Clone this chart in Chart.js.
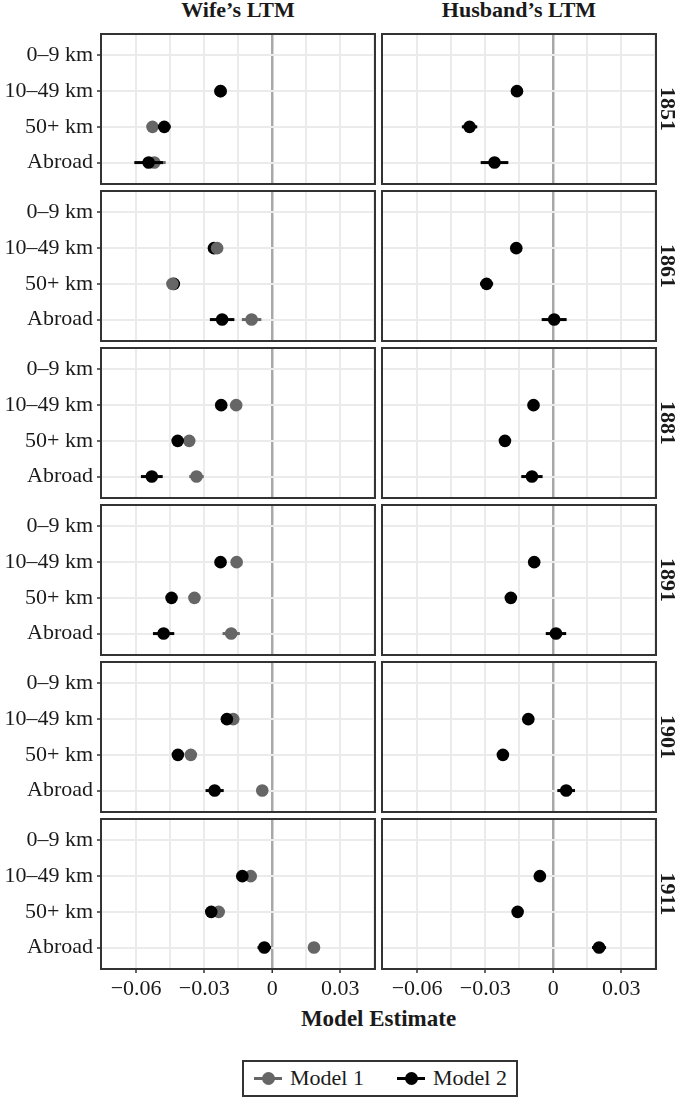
<!DOCTYPE html>
<html>
<head>
<meta charset="utf-8">
<script src="https://cdn.jsdelivr.net/npm/chart.js@4"></script>
<style>
body { margin: 0; background: #fff; }
#wrap { position: relative; width: 685px; height: 1099px; overflow: hidden; font-family: 'Liberation Serif', serif; color: #1a1a1a; }
#wrap canvas { position: absolute; }
.lbl { position: absolute; white-space: nowrap; }
.colTitle { font-weight: bold; font-size: 22px; transform: translateX(-50%); }
.rowTitle { font-weight: bold; font-size: 22px; transform: translate(-50%, -50%) rotate(90deg); }
#legend { position: absolute; box-sizing: border-box; border: 2px solid #333; font-size: 22px; }
.key { position: absolute; top: 50%; height: 3px; margin-top: -1.5px; }
.key i { position: absolute; left: 50%; top: 50%; width: 13px; height: 13px; margin: -6.5px 0 0 -6.5px; border-radius: 50%; }
</style>
</head>
<body>
<div id="wrap"></div>
<script>
// facets
const years = ['1851', '1861', '1881', '1891', '1901', '1911']
const columns = ['Wife’s LTM', 'Husband’s LTM']
const distances = ['0–9 km', '10–49 km', '50+ km', 'Abroad']

// x axis
const xTickValues = [-0.06, -0.03, 0, 0.03]
const xTickLabels = ['−0.06', '−0.03', '0', '0.03']
const xMinorValues = [-0.045, -0.015, 0.015, 0.045]

const seriesNames = ['Model 1', 'Model 2']
const seriesColors = ['#666666', '#000000']

// one row per year, one entry per distance (0–9 km is the reference, no estimate)
const wifeModel1 = [
	[null, -0.0228, -0.0528, -0.0520],
	[null, -0.0243, -0.0440, -0.0091],
	[null, -0.0159, -0.0366, -0.0334],
	[null, -0.0157, -0.0343, -0.0181],
	[null, -0.0172, -0.0359, -0.0044],
	[null, -0.0095, -0.0236, 0.0184],
]
const wifeModel1Err = [
	[null, 0.0015, 0.0020, 0.0050],
	[null, 0.0015, 0.0015, 0.0043],
	[null, 0.0015, 0.0015, 0.0032],
	[null, 0.0015, 0.0015, 0.0038],
	[null, 0.0015, 0.0015, 0.0025],
	[null, 0.0015, 0.0015, 0.0025],
]
const wifeModel2 = [
	[null, -0.0228, -0.0476, -0.0545],
	[null, -0.0257, -0.0434, -0.0221],
	[null, -0.0225, -0.0417, -0.0531],
	[null, -0.0228, -0.0444, -0.0479],
	[null, -0.0200, -0.0416, -0.0254],
	[null, -0.0132, -0.0269, -0.0035],
]
const wifeModel2Err = [
	[null, 0.0015, 0.0028, 0.0063],
	[null, 0.0015, 0.0015, 0.0054],
	[null, 0.0015, 0.0015, 0.0048],
	[null, 0.0015, 0.0015, 0.0047],
	[null, 0.0015, 0.0015, 0.0040],
	[null, 0.0015, 0.0015, 0.0030],
]
const husbandModel2 = [
	[null, -0.0160, -0.0369, -0.0259],
	[null, -0.0163, -0.0294, 0.0004],
	[null, -0.0087, -0.0213, -0.0094],
	[null, -0.0084, -0.0187, 0.0012],
	[null, -0.0110, -0.0222, 0.0057],
	[null, -0.0059, -0.0157, 0.0202],
]
const husbandModel2Err = [
	[null, 0.0015, 0.0034, 0.0061],
	[null, 0.0015, 0.0029, 0.0055],
	[null, 0.0015, 0.0015, 0.0047],
	[null, 0.0015, 0.0015, 0.0045],
	[null, 0.0015, 0.0015, 0.0039],
	[null, 0.0015, 0.0015, 0.0031],
]
// panels where the grey points sit over the black ones
const greyOnTop = [false, true, false, false, false, false]

// layout
const colLeft = [101, 382]
const panelW = 274
const panelH = 150
const rowTop = 34
const rowStep = 157
const xAxisH = 36
const font = 'Liberation Serif'

const wrap = document.getElementById('wrap')

// error bars go under the dataset's own points
const errorBars = {
	id: 'errorBars',
	beforeDatasetDraw(chart, args) {
		const ds = chart.data.datasets[args.index]
		const xs = chart.scales.x
		const ys = chart.scales.y
		const a = chart.chartArea
		const c = chart.ctx
		c.save()
		c.beginPath()
		c.rect(a.left, a.top, a.right - a.left, a.bottom - a.top)
		c.clip()
		c.strokeStyle = ds.backgroundColor
		c.lineWidth = 3
		ds.data.forEach((p, i) => {
			const e = ds.errors[i]
			const y = ys.getPixelForValue(p.y)
			c.beginPath()
			c.moveTo(xs.getPixelForValue(p.x - e), y)
			c.lineTo(xs.getPixelForValue(p.x + e), y)
			c.stroke()
		})
		c.restore()
	},
}

// panel border
const frame = {
	id: 'frame',
	afterDraw(chart) {
		const a = chart.chartArea
		const c = chart.ctx
		c.save()
		c.strokeStyle = '#333333'
		c.lineWidth = 2
		c.strokeRect(a.left, a.top, a.right - a.left, a.bottom - a.top)
		c.restore()
	},
}

function series(values, errs) {
	const data = []
	const errors = []
	values.forEach((v, i) => {
		if (v === null) return
		data.push({ x: v, y: i })
		errors.push(errs[i])
	})
	return { data, errors }
}

const xGrid = xTickValues.concat(xMinorValues).sort((a, b) => a - b)

function makePanel(row, col) {
	const isBottom = row === years.length - 1
	const isLeft = col === 0
	const cx = isLeft ? 0 : colLeft[col] - 2
	const cy = rowTop + row * rowStep - 2
	const cw = colLeft[col] + panelW + 2 - cx
	const ch = 2 + panelH + (isBottom ? xAxisH : 2)

	const canvas = document.createElement('canvas')
	canvas.width = cw
	canvas.height = ch
	canvas.style.left = cx + 'px'
	canvas.style.top = cy + 'px'
	canvas.style.width = cw + 'px'
	canvas.style.height = ch + 'px'
	wrap.appendChild(canvas)

	const datasets = []
	const m2 = isLeft ? series(wifeModel2[row], wifeModel2Err[row]) : series(husbandModel2[row], husbandModel2Err[row])
	datasets.push({
		label: seriesNames[1],
		data: m2.data,
		errors: m2.errors,
		backgroundColor: seriesColors[1],
		order: greyOnTop[row] && isLeft ? 2 : 1,
	})
	if (isLeft) {
		const m1 = series(wifeModel1[row], wifeModel1Err[row])
		datasets.push({
			label: seriesNames[0],
			data: m1.data,
			errors: m1.errors,
			backgroundColor: seriesColors[0],
			order: greyOnTop[row] ? 1 : 2,
		})
	}

	new Chart(canvas, {
		type: 'scatter',
		data: { datasets },
		plugins: [errorBars, frame],
		options: {
			responsive: false,
			animation: false,
			events: [],
			layout: {
				autoPadding: false,
				padding: { left: isLeft ? 0 : 2, right: 2, top: 2, bottom: isBottom ? 0 : 2 },
			},
			elements: { point: { radius: 6.3, borderWidth: 0 } },
			plugins: { legend: { display: false }, tooltip: { enabled: false } },
			scales: {
				x: {
					type: 'linear',
					min: -0.0755,
					max: 0.0453,
					afterBuildTicks: (s) => {
						s.ticks = xGrid.map((v) => ({ value: v }))
					},
					afterFit: (s) => {
						s.height = isBottom ? xAxisH : 0
						s.paddingLeft = 0
						s.paddingRight = 0
					},
					border: { display: false },
					grid: {
						color: (ctx) => (ctx.tick && ctx.tick.value === 0 ? '#a8a8a8' : '#ebebeb'),
						lineWidth: (ctx) => (ctx.tick && ctx.tick.value === 0 ? 2.5 : 2),
						drawTicks: isBottom,
						tickLength: 4,
						tickColor: (ctx) => (ctx.tick && xTickValues.includes(ctx.tick.value) ? '#333333' : 'rgba(0,0,0,0)'),
						tickWidth: 1.5,
					},
					ticks: {
						display: isBottom,
						autoSkip: false,
						maxRotation: 0,
						padding: 3,
						color: '#1a1a1a',
						font: { family: font, size: 22 },
						callback: (v) => {
							const k = xTickValues.indexOf(v)
							return k < 0 ? '' : xTickLabels[k]
						},
					},
				},
				y: {
					type: 'linear',
					reverse: true,
					min: -0.6,
					max: 3.6,
					afterBuildTicks: (s) => {
						s.ticks = distances.map((d, i) => ({ value: i }))
					},
					afterFit: (s) => {
						s.width = isLeft ? colLeft[0] : 0
						s.paddingTop = 0
						s.paddingBottom = 0
					},
					border: { display: false },
					grid: {
						color: '#ebebeb',
						lineWidth: 2,
						drawTicks: isLeft,
						tickLength: 4,
						tickColor: '#333333',
						tickWidth: 1.5,
					},
					ticks: {
						display: isLeft,
						padding: 4,
						color: '#1a1a1a',
						font: { family: font, size: 22 },
						callback: (v) => distances[v],
					},
				},
			},
		},
	})
}

years.forEach((y, r) => {
	columns.forEach((c, k) => makePanel(r, k))
})

// column strips
columns.forEach((t, k) => {
	const el = document.createElement('div')
	el.className = 'lbl colTitle'
	el.textContent = t
	el.style.left = colLeft[k] + panelW / 2 + 'px'
	el.style.top = '-3px'
	wrap.appendChild(el)
})

// row strips
years.forEach((t, r) => {
	const el = document.createElement('div')
	el.className = 'lbl rowTitle'
	el.textContent = t
	el.style.left = '668px'
	el.style.top = rowTop + r * rowStep + panelH / 2 + 'px'
	wrap.appendChild(el)
})

// axis title
const xTitle = document.createElement('div')
xTitle.className = 'lbl'
xTitle.textContent = 'Model Estimate'
Object.assign(xTitle.style, {
	left: (colLeft[0] + colLeft[1] + panelW) / 2 + 'px',
	top: '1006px',
	transform: 'translateX(-50%)',
	fontWeight: 'bold',
	fontSize: '23px',
})
wrap.appendChild(xTitle)

// legend
const legend = document.createElement('div')
legend.id = 'legend'
Object.assign(legend.style, { left: '242px', top: '1060px', width: '276px', height: '37px' })
const keyX = [[10, 46], [153, 189]]
seriesNames.forEach((name, i) => {
	const key = document.createElement('div')
	key.className = 'key'
	Object.assign(key.style, { left: keyX[i][0] + 'px', width: '28px', background: seriesColors[i] })
	const dot = document.createElement('i')
	dot.style.background = seriesColors[i]
	key.appendChild(dot)
	legend.appendChild(key)
	const txt = document.createElement('div')
	txt.className = 'lbl'
	txt.textContent = name
	Object.assign(txt.style, { left: keyX[i][1] + 'px', top: '3px' })
	legend.appendChild(txt)
})
wrap.appendChild(legend)
</script>
</body>
</html>
